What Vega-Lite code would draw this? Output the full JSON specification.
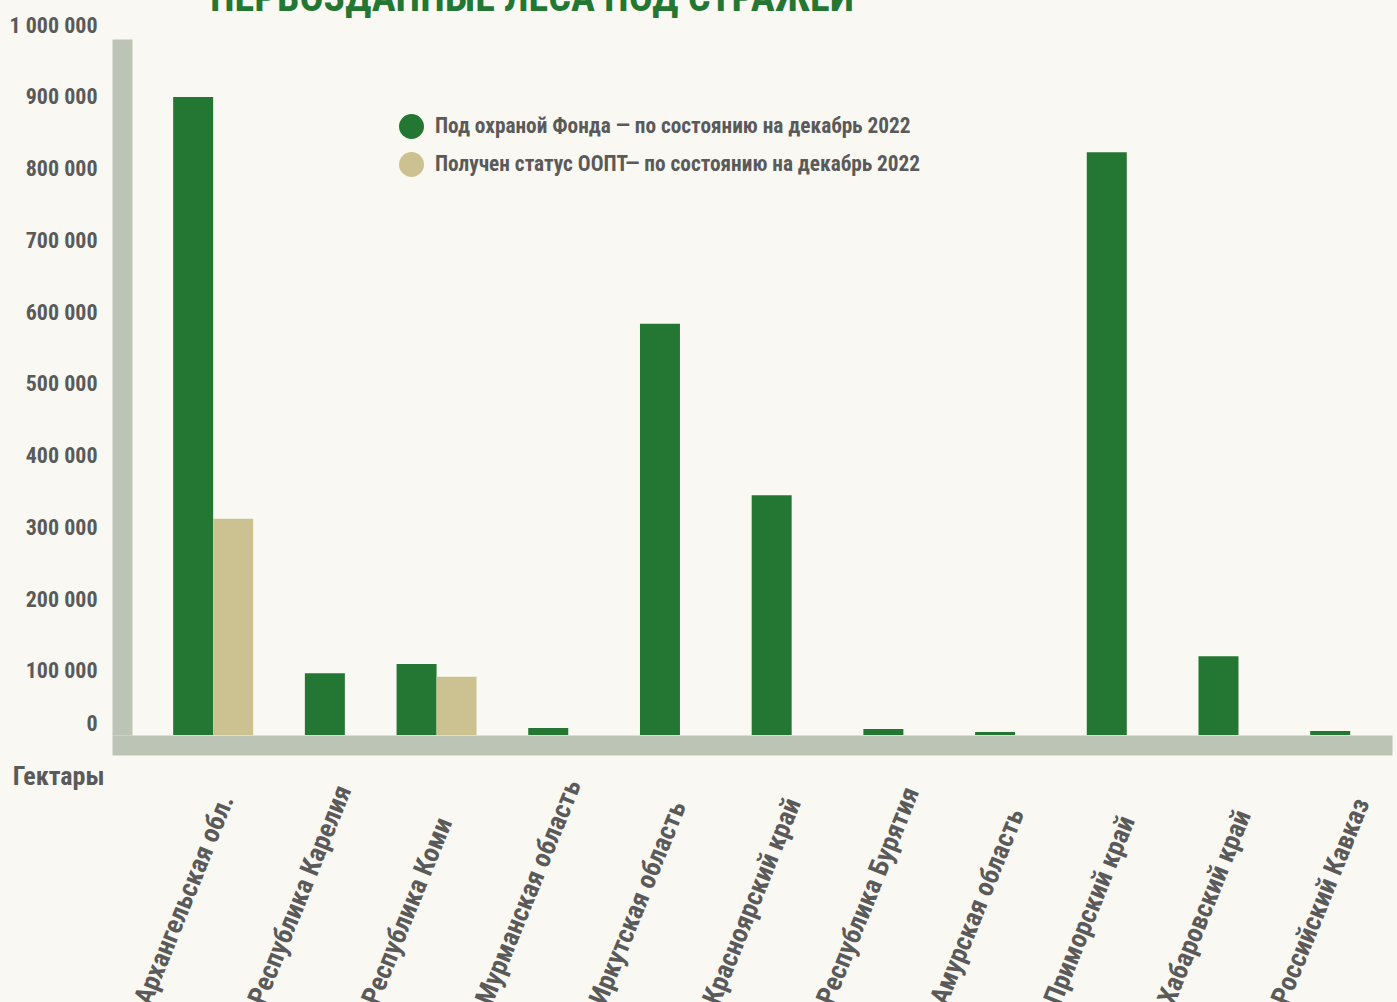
{
  "$schema": "https://vega.github.io/schema/vega-lite/v6.json",
  "autosize": {"type": "none"},
  "width": 1260,
  "height": 709,
  "padding": {"left": 122, "top": 26, "right": 15, "bottom": 267},
  "background": "#f9f8f2",
  "title": {
    "text": "ПЕРВОЗДАННЫЕ ЛЕСА ПОД СТРАЖЕЙ",
    "anchor": "start",
    "frame": "group",
    "dx": 88,
    "dy": 39,
    "offset": 2,
    "baseline": "alphabetic",
    "font": "Roboto Condensed, DejaVu Sans Condensed, sans-serif",
    "fontSize": 40,
    "fontWeight": "bold",
    "color": "#237733"
  },
  "data": {
    "values": [
      {"region": "Архангельская обл.", "series": "Под охраной Фонда — по состоянию на декабрь 2022", "value": 900000},
      {"region": "Архангельская обл.", "series": "Получен статус ООПТ— по состоянию на декабрь 2022", "value": 305000},
      {"region": "Республика Карелия", "series": "Под охраной Фонда — по состоянию на декабрь 2022", "value": 87000},
      {"region": "Республика Коми", "series": "Под охраной Фонда — по состоянию на декабрь 2022", "value": 100000},
      {"region": "Республика Коми", "series": "Получен статус ООПТ— по состоянию на декабрь 2022", "value": 82000},
      {"region": "Мурманская область", "series": "Под охраной Фонда — по состоянию на декабрь 2022", "value": 10000},
      {"region": "Иркутская область", "series": "Под охраной Фонда — по состоянию на декабрь 2022", "value": 580000},
      {"region": "Красноярский край", "series": "Под охраной Фонда — по состоянию на декабрь 2022", "value": 338000},
      {"region": "Республика Бурятия", "series": "Под охраной Фонда — по состоянию на декабрь 2022", "value": 8500},
      {"region": "Амурская область", "series": "Под охраной Фонда — по состоянию на декабрь 2022", "value": 4200},
      {"region": "Приморский край", "series": "Под охраной Фонда — по состоянию на декабрь 2022", "value": 822000},
      {"region": "Хабаровский край", "series": "Под охраной Фонда — по состоянию на декабрь 2022", "value": 111000},
      {"region": "Российский Кавказ", "series": "Под охраной Фонда — по состоянию на декабрь 2022", "value": 5600}
    ]
  },
  "transform": [
    {"joinaggregate": [{"op": "count", "as": "n"}], "groupby": ["region"]}
  ],
  "encoding": {
    "x": {
      "field": "region",
      "type": "nominal",
      "sort": ["Архангельская обл.", "Республика Карелия", "Республика Коми", "Мурманская область", "Иркутская область", "Красноярский край", "Республика Бурятия", "Амурская область", "Приморский край", "Хабаровский край", "Российский Кавказ"],
      "scale": {"paddingInner": 0.642, "paddingOuter": 0.461, "align": 0.691},
      "axis": {
        "title": null,
        "grid": false,
        "domainColor": "#bbc4b5",
        "domainWidth": 20,
        "domainCap": "square",
        "offset": 10,
        "ticks": false,
        "tickSize": 0,
        "labelAngle": -68,
        "labelAlign": "left",
        "labelBaseline": "middle",
        "labelPadding": 258,
        "labelOffset": {"expr": "-70 + 20 * datum.index"},
        "labelFont": "Roboto Condensed, DejaVu Sans Condensed, sans-serif",
        "labelFontSize": 27,
        "labelFontWeight": "bold",
        "labelColor": "#5a5a5a",
        "labelLimit": 500,
        "labelOverlap": false,
        "labelBound": false
      }
    },
    "y": {
      "field": "value",
      "type": "quantitative",
      "scale": {"domain": [0, 1000000], "nice": false},
      "axis": {
        "values": [0, 100000, 200000, 300000, 400000, 500000, 600000, 700000, 800000, 900000, 1000000],
        "grid": false,
        "domainColor": "#bbc4b5",
        "domainWidth": 20,
        "domainCap": "butt",
        "domainDash": [696, 300],
        "offset": 0,
        "ticks": false,
        "tickSize": 0,
        "labelPadding": 25,
        "labelOffset": {"expr": "datum.value == 0 ? -12 : (900000 - datum.value) / 120000"},
        "labelExpr": "replace(format(datum.value, ','), regexp(',', 'g'), ' ')",
        "labelFont": "Roboto Condensed, DejaVu Sans Condensed, sans-serif",
        "labelFontSize": 22,
        "labelFontWeight": "bold",
        "labelColor": "#5a5a5a",
        "labelOverlap": false,
        "title": "Гектары",
        "titleAngle": 0,
        "titleAlign": "right",
        "titleBaseline": "alphabetic",
        "titleX": -18,
        "titleY": 758,
        "titleFont": "Roboto Condensed, DejaVu Sans Condensed, sans-serif",
        "titleFontSize": 26,
        "titleFontWeight": "bold",
        "titleColor": "#5a5a5a"
      }
    },
    "color": {
      "field": "series",
      "type": "nominal",
      "scale": {
        "domain": ["Под охраной Фонда — по состоянию на декабрь 2022", "Получен статус ООПТ— по состоянию на декабрь 2022"],
        "range": ["#237733", "#ccc291"]
      },
      "legend": {
        "orient": "none",
        "legendX": 277,
        "legendY": 88,
        "title": null,
        "padding": 0,
        "symbolType": "circle",
        "symbolSize": 625,
        "symbolStrokeWidth": 0,
        "symbolOpacity": 1,
        "labelFont": "Roboto Condensed, DejaVu Sans Condensed, sans-serif",
        "labelFontSize": 21.3,
        "labelFontWeight": "bold",
        "labelColor": "#5a5a5a",
        "labelOffset": 11,
        "labelLimit": 1000,
        "rowPadding": 13
      }
    }
  },
  "layer": [
    {
      "transform": [{"filter": "datum.series == 'Под охраной Фонда — по состоянию на декабрь 2022' && datum.n == 1"}],
      "mark": {"type": "bar"}
    },
    {
      "transform": [{"filter": "datum.series == 'Под охраной Фонда — по состоянию на декабрь 2022' && datum.n == 2"}],
      "mark": {"type": "bar", "xOffset": -20}
    },
    {
      "transform": [{"filter": "datum.series == 'Получен статус ООПТ— по состоянию на декабрь 2022'"}],
      "mark": {"type": "bar", "xOffset": 20}
    }
  ],
  "config": {
    "view": {"stroke": null}
  }
}
